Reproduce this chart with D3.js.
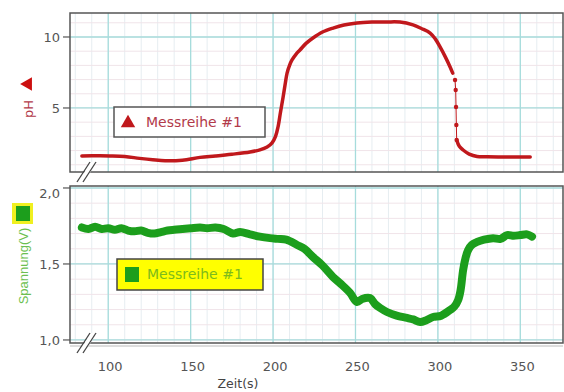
<!DOCTYPE html>
<html><head><meta charset="utf-8">
<script src="https://cdn.jsdelivr.net/npm/d3@7"></script>
<style>body{margin:0;background:#fff}svg{display:block}</style>
</head><body>
<svg id="c" width="564" height="392"></svg>
<script>
// ---- data ----
const xTicks = [100, 150, 200, 250, 300, 350];
const phTicks = [5, 10];
const voltTicks = [1.0, 1.5, 2.0];
const voltTickLabels = ["1,0", "1,5", "2,0"];
const seriesName = "Messreihe #1";
const phTime  = [84, 95, 101, 110, 119, 127, 134.5, 145, 155.7, 165, 175, 186, 192, 196.4, 199.4, 201.5, 203, 204.5, 206.1, 207.5, 208.5, 210, 211.5, 214, 216.3, 220, 224.2, 230, 236.4, 243, 250.9, 260, 269.1, 277, 284.9, 290, 295.3, 298.5, 301.3, 304.5, 307.4, 309, 310.4, 310.8, 311.0, 311.2, 311.4, 313, 315.3, 319, 323.8, 330, 340, 350, 356];
const phValue = [1.62, 1.63, 1.62, 1.58, 1.45, 1.35, 1.28, 1.32, 1.52, 1.62, 1.74, 1.9, 2.05, 2.25, 2.54, 3.0, 3.66, 4.7, 5.77, 6.8, 7.46, 8.0, 8.38, 8.8, 9.08, 9.55, 9.93, 10.35, 10.63, 10.85, 10.99, 11.05, 11.06, 11.05, 10.85, 10.6, 10.28, 9.85, 9.30, 8.6, 7.89, 7.45, 6.97, 6.27, 5.07, 3.80, 2.75, 2.3, 2.04, 1.75, 1.58, 1.56, 1.55, 1.55, 1.55];
const phDotTimes = [310.4, 310.8, 311.0, 311.2, 311.4];
const voltTime  = [84, 88, 92, 96, 100, 104, 108, 112, 116, 120, 124, 128, 132, 136, 140, 145, 150, 155.7, 160, 165, 170, 175.7, 180, 186, 192, 198.2, 203, 208, 214.6, 219, 224.2, 230, 236.4, 241, 246.7, 250.9, 254, 258.8, 262, 265, 269.1, 275, 281.3, 285, 289.2, 293, 297.1, 302, 307.4, 310, 312.3, 313.8, 315.3, 316.8, 318.3, 320.5, 323.8, 328, 333.5, 338, 342, 346, 350, 354.1, 357.1];
const voltValue = [1.74, 1.73, 1.745, 1.73, 1.735, 1.725, 1.735, 1.72, 1.715, 1.72, 1.705, 1.70, 1.71, 1.72, 1.725, 1.73, 1.735, 1.74, 1.735, 1.74, 1.73, 1.70, 1.71, 1.695, 1.68, 1.67, 1.665, 1.66, 1.625, 1.6, 1.546, 1.49, 1.414, 1.37, 1.31, 1.25, 1.27, 1.276, 1.235, 1.21, 1.184, 1.16, 1.145, 1.135, 1.118, 1.13, 1.151, 1.16, 1.197, 1.22, 1.263, 1.33, 1.46, 1.54, 1.59, 1.625, 1.645, 1.66, 1.67, 1.665, 1.69, 1.685, 1.69, 1.695, 1.68];

// ---- layout ----
const svg = d3.select("#c");
const L = 70, R = 563;
const top1 = 13, bot1 = 172, top2 = 186, bot2 = 343;
const x = d3.scaleLinear().domain([76.8, 375.9]).range([L, R]);
const yPh = d3.scaleLinear().domain([0.49, 11.69]).range([bot1, top1]);
const yV = d3.scaleLinear().domain([0.98, 2.013]).range([bot2, top2]);
const FONT = "'DejaVu Sans', Verdana, sans-serif";

function grid(y, yMinor, yMajor, t, b) {
  const g = svg.append("g");
  const xm = d3.range(80, 376, 10);
  g.selectAll(".vx").data(xm).join("line")
    .attr("x1", d => x(d)).attr("x2", d => x(d)).attr("y1", t).attr("y2", b)
    .attr("stroke", "#e6edf1").attr("stroke-width", 1);
  g.selectAll(".hy").data(yMinor).join("line")
    .attr("x1", L).attr("x2", R).attr("y1", d => y(d)).attr("y2", d => y(d))
    .attr("stroke", "#f0e4e9").attr("stroke-width", 1);
  g.selectAll(".VX").data(xTicks).join("line")
    .attr("x1", d => x(d)).attr("x2", d => x(d)).attr("y1", t).attr("y2", b)
    .attr("stroke", "#a6dcdc").attr("stroke-width", 1.3);
  g.selectAll(".HY").data(yMajor).join("line")
    .attr("x1", L).attr("x2", R).attr("y1", d => y(d)).attr("y2", d => y(d))
    .attr("stroke", "#a6dcdc").attr("stroke-width", 1.3);
}
grid(yPh, d3.range(1, 12, 1), phTicks, top1, bot1);
grid(yV, d3.range(1.0, 2.01, 0.1), voltTicks, top2, bot2);

// frames
[[top1, bot1], [top2, bot2]].forEach(([t, b]) => {
  svg.append("rect").attr("x", L).attr("y", t).attr("width", R - L).attr("height", b - t)
    .attr("fill", "none").attr("stroke", "#555").attr("stroke-width", 1.5);
});
svg.append("line").attr("x1", L).attr("x2", R).attr("y1", bot2 + 3).attr("y2", bot2 + 3)
  .attr("stroke", "#bbb").attr("stroke-width", 1);

// y axes
function yAxis(y, ticks, labels, firstLabelShift) {
  const g = svg.append("g");
  ticks.forEach((d, i) => {
    g.append("line").attr("x1", 63).attr("x2", L).attr("y1", y(d)).attr("y2", y(d))
      .attr("stroke", "#555").attr("stroke-width", 1.2);
    const shift = (firstLabelShift && i === ticks.length - 1) ? firstLabelShift : 0;
    g.append("text").attr("x", 60).attr("y", y(d) + shift).attr("dy", "0.35em")
      .attr("text-anchor", "end").attr("font-family", FONT).attr("font-size", 13)
      .attr("fill", "#555").text(labels ? labels[i] : d);
  });
}
yAxis(yPh, phTicks);
yAxis(yV, voltTicks, voltTickLabels, 5);

// x axis labels
svg.selectAll(".xl").data(xTicks).join("text")
  .attr("x", d => x(d) + 2).attr("y", 366).attr("dy", "0.35em")
  .attr("text-anchor", "middle").attr("font-family", FONT).attr("font-size", 13)
  .attr("fill", "#555").text(d => d);
svg.append("text").attr("x", 238).attr("y", 384).attr("dy", "0.35em")
  .attr("text-anchor", "middle").attr("font-family", FONT).attr("font-size", 12.5)
  .attr("fill", "#444").text("Zeit(s)");

// break marks
function brk(yb) {
  const g = svg.append("g");
  g.append("polygon").attr("points", `${78},${yb + 10} ${84},${yb + 10} ${97},${yb - 10} ${91},${yb - 10}`).attr("fill", "#fff");
  [0, 6].forEach(o => g.append("line")
    .attr("x1", 77 + o).attr("y1", yb + 10).attr("x2", 90 + o).attr("y2", yb - 10)
    .attr("stroke", "#444").attr("stroke-width", 1.3));
}
brk(bot1);
brk(bot2);

// series
const phData = d3.zip(phTime, phValue);
const voltData = d3.zip(voltTime, voltValue);
svg.append("path").datum(voltData).attr("d", d3.line().x(d => x(d[0])).y(d => yV(d[1])).curve(d3.curveCatmullRom))
  .attr("fill", "none").attr("stroke", "#1c9e1c").attr("stroke-width", 8).attr("stroke-linejoin", "round").attr("stroke-linecap", "round");
svg.append("path").datum(phData.filter(d => d[0] < 310.3))
  .attr("d", d3.line().x(d => x(d[0])).y(d => yPh(d[1])).curve(d3.curveCatmullRom))
  .attr("fill", "none").attr("stroke", "#c0181c").attr("stroke-width", 3.5).attr("stroke-linecap", "round");
svg.append("path").datum(phData.filter(d => d[0] > 311.3))
  .attr("d", d3.line().x(d => x(d[0])).y(d => yPh(d[1])).curve(d3.curveCatmullRom))
  .attr("fill", "none").attr("stroke", "#c0181c").attr("stroke-width", 3.5).attr("stroke-linecap", "round");
svg.selectAll(".pd").data(phData.filter(d => phDotTimes.includes(d[0]))).join("circle")
  .attr("cx", d => x(d[0])).attr("cy", d => yPh(d[1])).attr("r", 2.2).attr("fill", "#c0181c");
svg.append("path").datum(phData.filter(d => d[0] >= 310.4 && d[0] <= 311.4))
  .attr("d", d3.line().x(d => x(d[0])).y(d => yPh(d[1])))
  .attr("fill", "none").attr("stroke", "#c0181c").attr("stroke-width", 1);

// legends
const lg1 = svg.append("g");
lg1.append("rect").attr("x", 114).attr("y", 107).attr("width", 151).attr("height", 30)
  .attr("fill", "#fff").attr("stroke", "#555").attr("stroke-width", 1.5);
lg1.append("path").attr("d", d3.symbol(d3.symbolTriangle, 90)()).attr("transform", "translate(128,123)").attr("fill", "#c0181c");
lg1.append("text").attr("x", 146).attr("y", 122).attr("dy", "0.35em").attr("font-family", FONT)
  .attr("font-size", 14).attr("fill", "#b23a4a").text(seriesName);

const lg2 = svg.append("g");
lg2.append("rect").attr("x", 117).attr("y", 259).attr("width", 146).attr("height", 31)
  .attr("fill", "#ffff00").attr("stroke", "#444").attr("stroke-width", 1.5);
lg2.append("rect").attr("x", 125).attr("y", 267).attr("width", 14).attr("height", 15).attr("fill", "#1c9e1c");
lg2.append("text").attr("x", 147).attr("y", 274).attr("dy", "0.35em").attr("font-family", FONT)
  .attr("font-size", 14).attr("fill", "#7cbb1c").text(seriesName);

// y titles
svg.append("text").attr("transform", "translate(28,109) rotate(-90)").attr("text-anchor", "middle")
  .attr("dy", "0.35em").attr("font-family", FONT).attr("font-size", 13).attr("fill", "#b23a4a").text("pH");
svg.append("path").attr("d", d3.symbol(d3.symbolTriangle, 80)()).attr("transform", "translate(28,84) rotate(-90)").attr("fill", "#cc1010");
svg.append("text").attr("transform", "translate(23,266) rotate(-90)").attr("text-anchor", "middle")
  .attr("dy", "0.35em").attr("font-family", "'Liberation Sans', Arial, sans-serif").attr("font-size", 13).attr("fill", "#6cbf50").text("Spannung(V)");
svg.append("rect").attr("x", 12).attr("y", 203).attr("width", 21).attr("height", 21).attr("fill", "#f0f020");
svg.append("rect").attr("x", 16).attr("y", 206).attr("width", 14).attr("height", 15).attr("fill", "#1c9e1c");
</script>
</body></html>
